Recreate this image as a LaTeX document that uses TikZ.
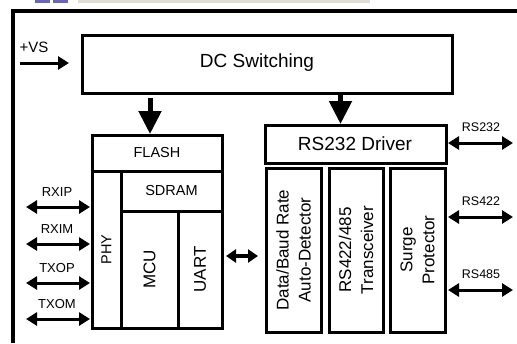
\documentclass[tikz,border=0pt]{standalone}
\usepackage{fontspec}
\setmainfont{Liberation Sans}
\usetikzlibrary{arrows.meta}
\begin{document}
\begin{tikzpicture}[x=1pt,y=-1pt,
  blk/.style={draw=black,line width=3pt,fill=white,inner sep=0pt},
  dbl/.style={line width=3pt,{Triangle[length=11pt,width=13pt]}-{Triangle[length=11pt,width=13pt]}},
  sgl/.style={line width=3pt,-{Triangle[length=11pt,width=13pt]}},
  dwn/.style={line width=5pt,-{Triangle[length=23pt,width=22pt]}},
  lbl/.style={font=\fontsize{13}{13}\selectfont,inner sep=0pt},
  big/.style={font=\fontsize{19}{19}\selectfont},
  mid/.style={font=\fontsize{17}{22}\selectfont,align=center},
  sm/.style={font=\fontsize{14.5}{14.5}\selectfont}]
\useasboundingbox (0,0) rectangle (517,343);
\fill[white] (0,0) rectangle (517,343);
% header fragment
\fill[blue!60!black,opacity=0.6] (35,0) rectangle (50,3);
\fill[blue!60!black,opacity=0.6] (53,0) rectangle (68,3);
\fill[olive!20!gray!30] (78,0) rectangle (370,3);
% frame
\draw[line width=4pt] (12.5,343) -- (12.5,11) -- (517,11);
% DC switching
\draw[blk] (82,35) rectangle (452,93);
\node[big] (dc) at (257,63) {DC Switching};
\coordinate (dcl) at (150,93);
\coordinate (dcr) at (340.5,93);
% +VS
\coordinate (vs0) at (20,63);
\coordinate (vs1) at (69,63);
\draw[sgl] (vs0) -- (vs1);
\node[font=\fontsize{15}{15}\selectfont,inner sep=0pt] (vs) at (34,47) {+VS};
% left block
\draw[blk] (92,135) rectangle (222,328);
\draw[line width=3pt] (92,171) -- (222,171);
\draw[line width=3pt] (121,171) -- (121,328);
\draw[line width=3pt] (121,211) -- (222,211);
\draw[line width=3pt] (178,211) -- (178,328);
\node[sm] (flash) at (157,153) {FLASH};
\node[sm] (sdram) at (171.5,191) {SDRAM};
\node[sm,rotate=90] (phy) at (106.5,249.5) {PHY};
\node[font=\fontsize{17}{17}\selectfont,rotate=90] (mcu) at (149.5,269.5) {MCU};
\node[font=\fontsize{17}{17}\selectfont,rotate=90] (uart) at (200,269.5) {UART};
\coordinate (lbt) at (150,134);
\draw[dwn] (dcl) ++(0,5) -- (lbt);
% left arrows
\foreach \y/\t in {207/RXIP,244/RXIM,283/TXOP,319/TXOM}{
  \coordinate (a\t) at (26,\y);
  \coordinate (b\t) at (90,\y);
  \draw[dbl] (a\t) -- (b\t);
  \node[lbl] (l\t) at (57,\y-15) {\t};
}
% middle arrow
\coordinate (m0) at (226,256);
\coordinate (m1) at (258,256);
\draw[line width=4pt,{Triangle[length=10pt,width=13pt]}-{Triangle[length=10pt,width=13pt]}] (m0) -- (m1);
% RS232 driver
\draw[blk] (265,125) rectangle (446,163);
\node[big] (drv) at (355,144) {RS232 Driver};
\coordinate (drt) at (340.5,124);
\draw[dwn] (dcr) -- (drt);
\draw[blk] (266,168) rectangle (321,332);
\draw[blk] (329,168) rectangle (383,332);
\draw[blk] (390,168) rectangle (445,332);
\node[mid,rotate=90] (det) at (293.5,250) {Data/Baud Rate\\Auto-Detector};
\node[mid,rotate=90] (trx) at (356,250) {RS422/485\\Transceiver};
\node[mid,rotate=90] (surge) at (417.5,250) {Surge\\Protector};
% right arrows
\foreach \y/\t in {143/RS232,217/RS422,290/RS485}{
  \coordinate (r0\t) at (448,\y);
  \coordinate (r1\t) at (513,\y);
  \draw[dbl] (r0\t) -- (r1\t);
  \node[lbl,font=\fontsize{12.5}{12.5}\selectfont] (rl\t) at (481,\y-16) {\t};
}
\end{tikzpicture}
\end{document}
